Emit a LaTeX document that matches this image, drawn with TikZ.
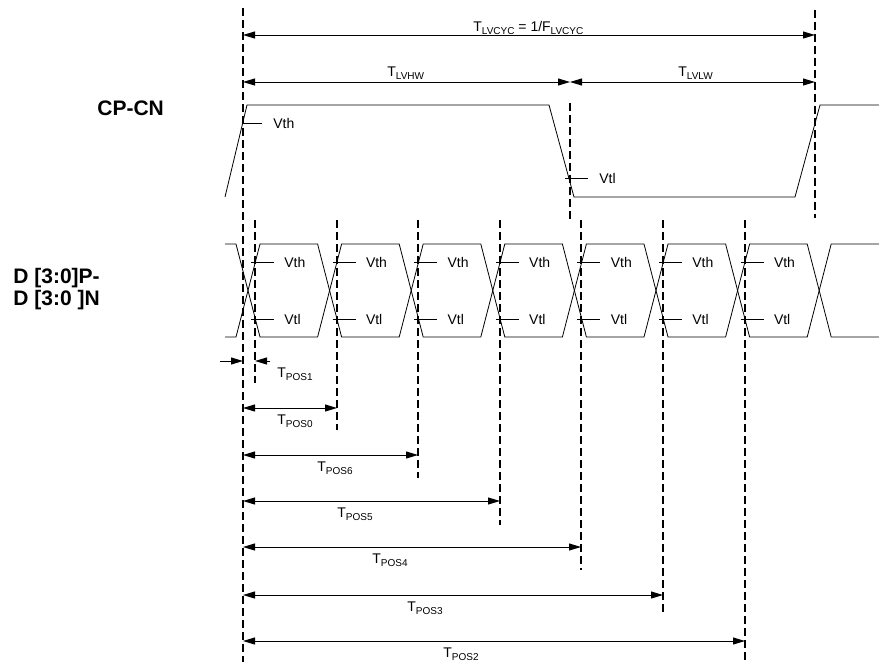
\documentclass[tikz,border=0pt]{standalone}
\usepackage{fontspec}
\setmainfont{Liberation Sans}
\usetikzlibrary{arrows.meta}
\newcommand{\lowsub}[1]{\raisebox{-3pt}{\fontsize{10}{10}\selectfont #1}}

\begin{document}
\begin{tikzpicture}[x=1pt, y=-1pt, line width=0.8pt,
  >={Triangle[length=12pt,width=7pt]},
  every node/.style={inner sep=0pt, font=\fontsize{14}{16}\selectfont},
  guide/.style={line width=1.8pt, dash pattern=on 8pt off 4pt},
  dimline/.style={<->, line width=1pt},
  signame/.style={anchor=base west, font=\fontsize{21}{23}\selectfont\bfseries}]
\useasboundingbox (0,0) rectangle (879,662);
% signal names
\node[signame] (cpcn) at (97,115) {CP-CN};
\node[signame] (dp) at (13,283) {D [3:0]P-};
\node[signame] (dn) at (13,305) {D [3:0 ]N};
% dashed guides
\draw[guide] (243,8) -- (243,662);
\draw[guide] (815,10) -- (815,218);
\draw[guide] (570,103) -- (570,220);
\draw[guide] (255,220) -- (255,383);
\draw[guide] (337,220) -- (337,430);
\draw[guide] (418,220) -- (418,478);
\draw[guide] (500,220) -- (500,525);
\draw[guide] (581,220) -- (581,570);
\draw[guide] (663,220) -- (663,613);
\draw[guide] (745,220) -- (745,662);
% clock period
\draw[dimline] (243,35) -- (815,35);
\draw[dimline] (243,82) -- (570,82);
\draw[dimline] (570,82) -- (815,82);
\node[anchor=base west] (tcyc) at (473,31) {T\lowsub{LVCYC} = 1/F\lowsub{LVCYC}};
\node[anchor=base west] (thw) at (387,76) {T\lowsub{LVHW}};
\node[anchor=base west] (tlw) at (678,76) {T\lowsub{LVLW}};
% clock waveform
\draw (225,197) -- (247,105) -- (549,105) -- (574,197) -- (795,197) -- (820,105) -- (879,105);
\draw (242,123) -- (262,123) node[right=11pt] (cvth) {Vth};
\draw (565,178) -- (588,178) node[right=11pt] (cvtl) {Vtl};
% data eyes
\draw (225,244) -- (236,244) -- (260,337) -- (317.6,337) -- (341.6,244) -- (399.2,244)
  -- (423.2,337) -- (480.8,337) -- (504.8,244) -- (562.4,244) -- (586.4,337) -- (644,337)
  -- (668,244) -- (725.6,244) -- (749.6,337) -- (807.2,337) -- (831.2,244) -- (879,244);
\draw (225,337) -- (236,337) -- (260,244) -- (317.6,244) -- (341.6,337) -- (399.2,337)
  -- (423.2,244) -- (480.8,244) -- (504.8,337) -- (562.4,337) -- (586.4,244) -- (644,244)
  -- (668,337) -- (725.6,337) -- (749.6,244) -- (807.2,244) -- (831.2,337) -- (879,337);
\foreach \c [count=\i] in {248,329.6,411.2,492.8,574.4,656,737.6}{
  \draw (\c+3,262) -- (\c+26,262) node[right=10pt] (vth\i) {Vth};
  \draw (\c+3,319) -- (\c+26,319) node[right=10pt] (vtl\i) {Vtl};
}
% position timings
\draw[->, line width=1pt] (220,361) -- (243,361);
\draw[->, line width=1pt] (270,361) -- (255,361);
\node[anchor=base west] (tp1) at (277,377) {T\lowsub{POS1}};
\draw[dimline] (243,408) -- (337,408);
\node[anchor=base west] (tp0) at (277,424) {T\lowsub{POS0}};
\draw[dimline] (243,455) -- (418,455);
\node[anchor=base west] (tp6) at (317,471) {T\lowsub{POS6}};
\draw[dimline] (243,501) -- (500,501);
\node[anchor=base west] (tp5) at (337,517) {T\lowsub{POS5}};
\draw[dimline] (243,547) -- (581,547);
\node[anchor=base west] (tp4) at (372,563) {T\lowsub{POS4}};
\draw[dimline] (243,595) -- (663,595);
\node[anchor=base west] (tp3) at (407,611) {T\lowsub{POS3}};
\draw[dimline] (243,641) -- (745,641);
\node[anchor=base west] (tp2) at (443,657) {T\lowsub{POS2}};
\end{tikzpicture}
\end{document}
